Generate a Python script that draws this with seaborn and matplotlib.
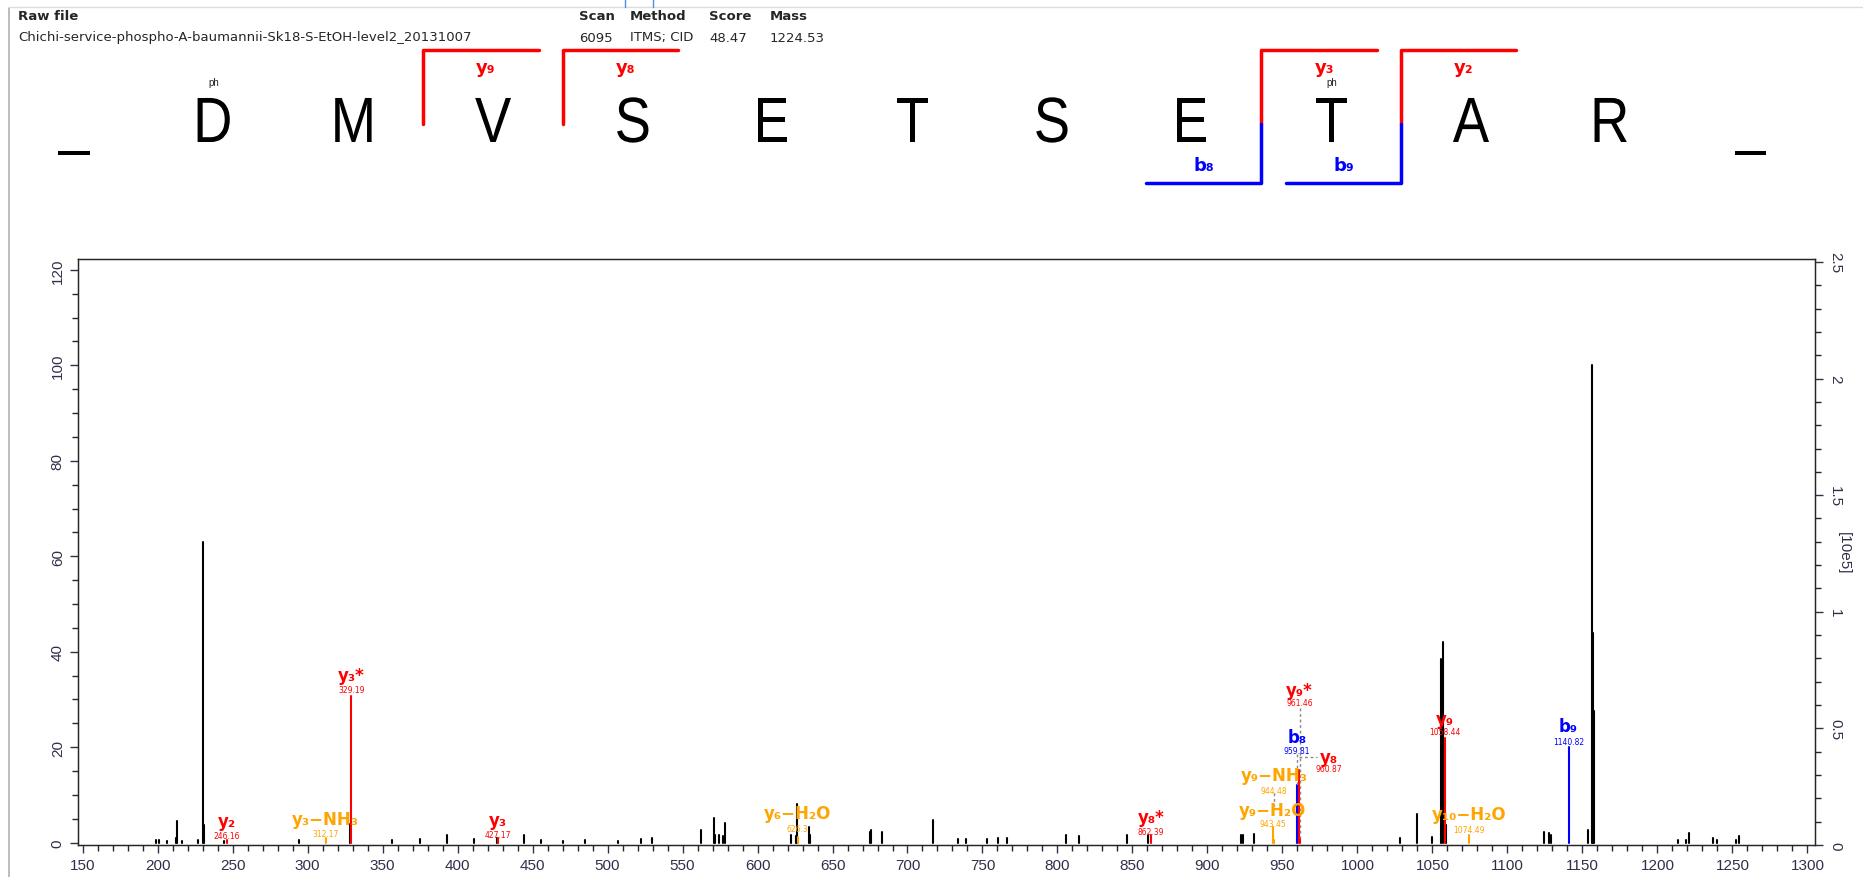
import pandas as pd
import matplotlib.pyplot as plt
import matplotlib.ticker as mticker
from matplotlib.textpath import TextPath
from matplotlib.patches import PathPatch
from matplotlib.font_manager import FontProperties
from matplotlib.transforms import Affine2D
import seaborn as sns

# Header info
raw_file = "Chichi-service-phospho-A-baumannii-Sk18-S-EtOH-level2_20131007"
info_keys = ["Scan", "Method", "Score", "Mass"]
info_vals = ["6095", "ITMS; CID", "48.47", "1224.53"]

# Peptide sequence and fragment coverage
residues = ["_", "D", "M", "V", "S", "E", "T", "S", "E", "T", "A", "R", "_"]
phospho_sites = [1, 9]
y_ions = [9, 8, 3, 2]
b_ions = [8, 9]

# Unassigned peaks (m/z, relative intensity %)
other_mz = [199.0, 200.8, 206.3, 212.4, 213.1, 216.4, 227.0, 230.2, 231.0, 244.0,
            294.0, 328.5, 356.5, 375.0, 393.0, 411.0, 426.3, 444.0, 455.4, 470.0,
            485.0, 507.0, 522.2, 529.6, 562.2, 571.1, 571.8, 574.4, 577.1, 578.0,
            622.2, 625.6, 626.4, 634.0, 634.9, 674.9, 675.8, 682.9, 716.7, 734.0,
            739.3, 753.3, 760.2, 766.4, 805.8, 814.4, 846.6, 860.1, 922.6, 923.5,
            930.8, 1028.3, 1039.5, 1049.9, 1056.0, 1056.8, 1058.7, 1124.1, 1127.5, 1129.2,
            1153.8, 1156.2, 1156.8, 1157.4, 1213.7, 1219.3, 1221.0, 1237.3, 1239.8, 1252.5,
            1254.2]
other_int = [0.5, 0.6, 0.3, 1.0, 4.6, 0.3, 0.5, 63.0, 3.8, 0.4,
             0.5, 4.0, 0.5, 0.7, 1.5, 0.7, 1.0, 1.5, 0.6, 0.4,
             0.5, 0.4, 0.8, 1.0, 2.6, 5.2, 1.5, 1.5, 1.4, 4.2,
             1.6, 1.4, 8.0, 3.2, 1.7, 2.3, 2.6, 2.2, 4.7, 0.7,
             0.8, 0.7, 1.0, 1.0, 1.5, 1.3, 1.6, 1.6, 1.5, 1.5,
             1.9, 1.0, 5.9, 1.1, 38.5, 42.0, 3.6, 2.3, 2.0, 1.5,
             2.7, 100.0, 44.0, 27.5, 0.5, 0.6, 2.0, 0.9, 0.6, 0.5,
             1.4]

# Assigned peaks
ion_names = ["y₂", "y₃−NH₃", "y₃*", "y₃", "y₆−H₂O", "y₈*", "y₉−H₂O", "y₉−NH₃",
             "b₈", "y₈", "y₉*", "y₉", "y₁₀−H₂O", "b₉"]
ion_labels = ["246.16", "312.17", "329.19", "427.17", "626.3", "862.39", "943.45", "944.48",
              "959.81", "960.87", "961.46", "1058.44", "1074.49", "1140.82"]
ion_mz = [246.16, 312.17, 329.19, 427.17, 626.8, 862.39, 943.45, 944.48,
          959.81, 960.87, 961.46, 1058.44, 1074.49, 1140.82]
ion_int = [0.6, 1.0, 30.8, 1.0, 1.2, 1.5, 3.2, 0.5,
           12.0, 15.3, 1.0, 22.0, 1.7, 20.0]
ion_kind = ["y", "loss", "y", "y", "loss", "y", "loss", "loss",
            "b", "y", "y", "y", "loss", "b"]

# label placement (name height, value height, x shift)
name_y = [4.5, 4.9, 35.2, 4.8, 6.3, 5.3, 6.9, 14.1, 22.1, 18.0, 32.0, 25.9, 6.0, 24.5]
value_y = [1.4, 1.9, 32.0, 1.7, 2.9, 2.3, 4.1, 11.0, 19.3, 15.5, 29.4, 23.3, 2.8, 21.2]
x_shift = [0, 0, 0, 0, 0, 0, 0, 0, 0, 20, 0, 0, 0, 0]

colors = {"other": "black", "y": "#ff0000", "b": "#0000ff", "loss": "#ffa500"}

sns.set_style("ticks")
plt.rcParams["font.family"] = ["Liberation Sans", "DejaVu Sans"]

fig = plt.figure(figsize=(18.63, 8.78), dpi=100)

# long-format stick table
rows = []
for i, (m, v) in enumerate(zip(other_mz, other_int)):
    rows.append({"mz": m, "inten": 0.0, "peak": f"o{i}", "kind": "other"})
    rows.append({"mz": m, "inten": v, "peak": f"o{i}", "kind": "other"})
for i, (m, v, k) in enumerate(zip(ion_mz, ion_int, ion_kind)):
    rows.append({"mz": m, "inten": 0.0, "peak": f"i{i}", "kind": k})
    rows.append({"mz": m, "inten": v, "peak": f"i{i}", "kind": k})
df = pd.DataFrame(rows)

ax = fig.add_axes([0.0419, 0.0364, 0.9323, 0.6676])
sns.lineplot(data=df, x="mz", y="inten", units="peak", estimator=None, hue="kind",
             hue_order=["other", "loss", "b", "y"], palette=colors, sort=False,
             legend=False, linewidth=1.5, ax=ax)
ax.set_xlim(147, 1305)
ax.set_ylim(-0.5, 122.3)
ax.set_xlabel("")
ax.set_ylabel("")
ax.xaxis.set_major_locator(mticker.MultipleLocator(50))
ax.xaxis.set_minor_locator(mticker.MultipleLocator(10))
ax.yaxis.set_major_locator(mticker.MultipleLocator(20))
ax.yaxis.set_minor_locator(mticker.MultipleLocator(5))
ax.tick_params(which="major", length=6, width=1, labelsize=11, colors="#30304a")
ax.tick_params(which="minor", length=4, width=1)
for lab in ax.get_yticklabels():
    lab.set_rotation(90)
    lab.set_va("center")
for s in ax.spines.values():
    s.set_linewidth(1)

ax2 = ax.twinx()
ax2.set_ylim(0, 2.513)
ax2.yaxis.set_major_locator(mticker.MultipleLocator(0.5))
ax2.yaxis.set_minor_locator(mticker.MultipleLocator(0.1))
ax2.yaxis.set_major_formatter(mticker.FuncFormatter(lambda v, p: f"{v:g}"))
ax2.tick_params(which="major", length=6, width=1, labelsize=11, colors="#30304a")
ax2.tick_params(which="minor", length=4, width=1)
for lab in ax2.get_yticklabels():
    lab.set_rotation(-90)
    lab.set_va("center")
ax2.set_ylabel("[10e5]", rotation=-90, fontsize=11, labelpad=6, color="#30304a")

# ion annotations
for i, name in enumerate(ion_names):
    c = colors[ion_kind[i]]
    lx = ion_mz[i] + x_shift[i]
    ax.text(lx, name_y[i], name, color=c, fontsize=12, fontweight="bold",
            ha="center", va="center", family=["DejaVu Sans"], zorder=5)
    ax.text(lx, value_y[i], ion_labels[i], color=c, fontsize=5.5,
            ha="center", va="center", family=["DejaVu Sans"], zorder=5)

# dashed connectors for crowded labels
dash = dict(color="#888888", linestyle=(0, (2, 2)), linewidth=1, zorder=4)
ax.plot([961.46, 961.46], [28.3, 1.0], **dash)
ax.plot([959.81, 959.81], [18.5, 12.0], **dash)
ax.plot([961.0, 973.0], [18.0, 18.0], **dash)
ax.plot([944.48, 944.48], [10.4, 7.6], **dash)

# header overlay in pixel coordinates
hdr = fig.add_axes([0, 0, 1, 1], zorder=-1)
hdr.set_xlim(0, 1863)
hdr.set_ylim(878, 0)
hdr.axis("off")

hdr.plot([9, 9], [9, 878], color="#b0b0b0", linewidth=1.2)
hdr.plot([9, 1863], [8, 8], color="#dcdcdc", linewidth=1)
hdr.plot([625, 625], [0, 8], color="#4a90e2", linewidth=1)
hdr.plot([653, 653], [0, 8], color="#4a90e2", linewidth=1)

hdr.text(18, 17, "Raw file", fontsize=9.5, fontweight="bold", va="center", family=["DejaVu Sans"])
hdr.text(18, 38, raw_file, fontsize=9.5, va="center", family=["DejaVu Sans"])
for k, v, x in zip(info_keys, info_vals, [579, 630, 709, 770]):
    hdr.text(x, 17, k, fontsize=9.5, fontweight="bold", va="center", family=["DejaVu Sans"])
    hdr.text(x, 38, v, fontsize=9.5, va="center", family=["DejaVu Sans"])

# sequence letters, horizontally condensed
seq_x0, seq_dx = 74, 139.7
seq_fp = FontProperties(family="Liberation Sans")
for i, r in enumerate(residues):
    tp = TextPath((0, 0), r, size=64, prop=seq_fp)
    ext = tp.get_extents()
    cx = (ext.x0 + ext.x1) / 2
    tr = Affine2D().translate(-cx, 0).scale(0.85, -1).translate(seq_x0 + i * seq_dx, 143) + hdr.transData
    hdr.add_patch(PathPatch(tp, transform=tr, facecolor="black", edgecolor="none"))
for i in phospho_sites:
    hdr.text(seq_x0 + i * seq_dx, 83, "ph", fontsize=7, ha="center", va="center", color="#222")

n_res = len(residues) - 2
top_y, mid_y, bot_y = 51, 125, 184
arm = 0.825 * seq_dx
for n in y_ions:
    bx = seq_x0 + (n_res + 1 - n - 0.5) * seq_dx
    hdr.plot([bx, bx, bx + arm], [mid_y, top_y, top_y], color="#ff0000", linewidth=2.5)
    hdr.text(bx + 0.45 * seq_dx, 68, f"y{chr(0x2080 + n)}", color="#ff0000", fontsize=13,
             fontweight="bold", ha="center", va="center", family=["DejaVu Sans"])
for n in b_ions:
    bx = seq_x0 + (n + 0.5) * seq_dx
    hdr.plot([bx - arm, bx, bx], [bot_y, bot_y, mid_y], color="#0000ff", linewidth=2.5)
    hdr.text(bx - 0.41 * seq_dx, 166, f"b{chr(0x2080 + n)}", color="#0000ff", fontsize=13,
             fontweight="bold", ha="center", va="center", family=["DejaVu Sans"])

fig.savefig("out.png", dpi=100)
